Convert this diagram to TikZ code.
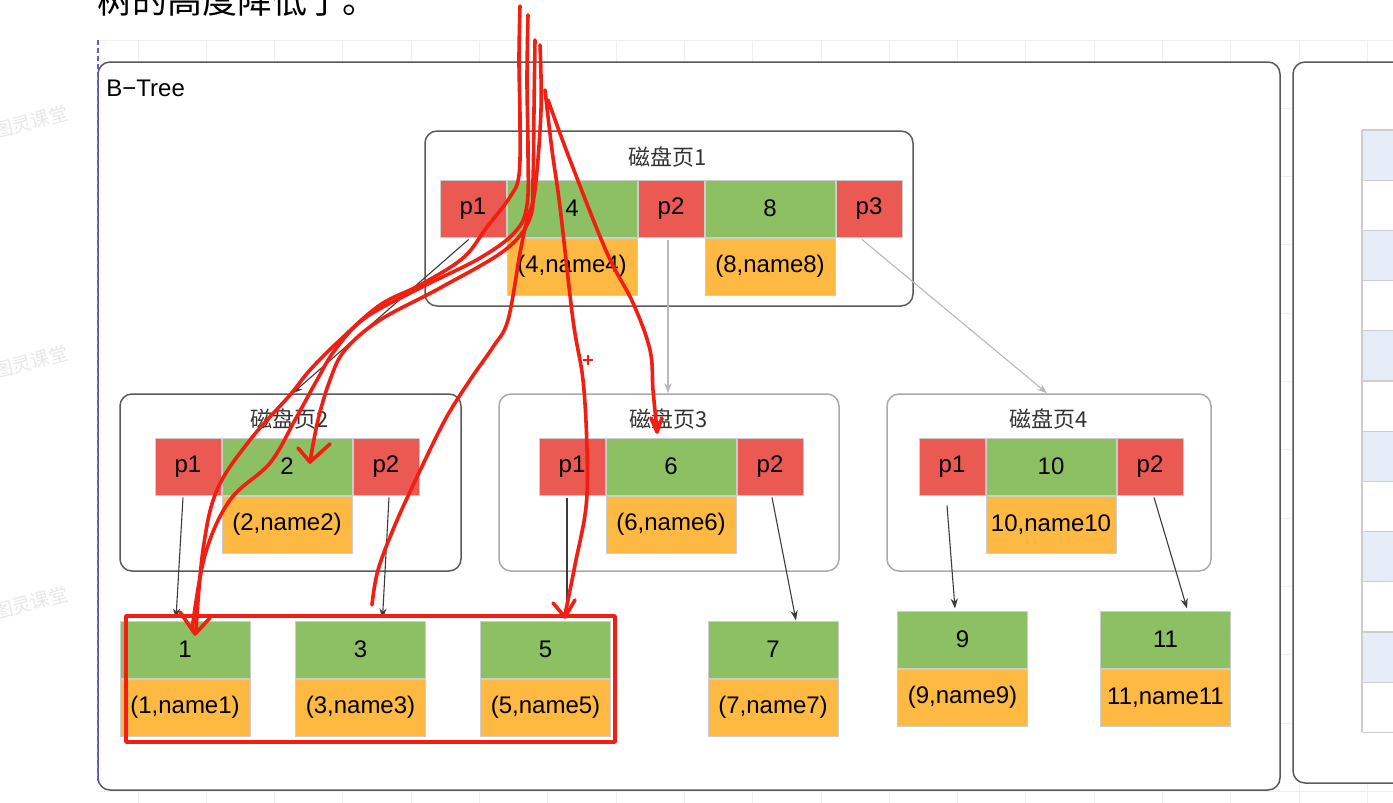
\documentclass[tikz,border=0pt]{standalone}
\usepackage{fontspec}
\setmainfont{Liberation Sans}
\newfontfamily\cjk{Noto Sans CJK SC}
\usetikzlibrary{arrows.meta,positioning}
\definecolor{ptrred}{RGB}{234,90,82}
\definecolor{keygreen}{RGB}{140,192,99}
\definecolor{dataorange}{RGB}{253,185,66}
\definecolor{cellgray}{RGB}{205,205,205}
\definecolor{boxdark}{RGB}{90,90,90}
\definecolor{boxlight}{RGB}{170,170,170}
\definecolor{linkdark}{RGB}{60,60,60}
\definecolor{linklight}{RGB}{185,185,185}
\definecolor{redmark}{RGB}{242,30,18}
\definecolor{gridc}{RGB}{240,240,240}
\definecolor{dashblue}{RGB}{80,100,215}
\definecolor{tableblue}{RGB}{230,236,248}
\begin{document}
\begin{tikzpicture}[x=0.5pt,y=-0.5pt,
  cell/.style={draw=cellgray,line width=0.5pt,inner sep=0pt,minimum height=28.5pt,font=\fontsize{12}{14}\selectfont},
  ptr/.style={cell,fill=ptrred,minimum width=33pt},
  keyc/.style={cell,fill=keygreen,minimum width=65pt},
  datac/.style={cell,fill=dataorange,minimum width=65pt},
  page/.style={draw=#1,line width=0.75pt,rounded corners=6pt,fill=white,inner sep=0pt},
  title/.style={font=\cjk\fontsize{11}{13}\selectfont,text=black!80},
  link/.style={-{Stealth[length=5pt,width=3.6pt]},line width=0.55pt,draw=#1},
  pen/.style={draw=redmark,line width=1.8pt,line cap=round,line join=round},
  wmark/.style={text=black!9,font=\cjk\fontsize{9.5}{11}\selectfont,rotate=15}]
\useasboundingbox (0,0) rectangle (1393,803);
\fill[white] (0,0) rectangle (1393,803);
% 背景の方眼
\foreach \i in {0,...,18} \draw[gridc,line width=0.5pt] ({138+68.3*\i},40) -- ({138+68.3*\i},803);
\foreach \j in {0,...,11} \draw[gridc,line width=0.5pt] (98,{40+68.3*\j}) -- (1393,{40+68.3*\j});
% 透かし
\node[wmark] (wm1) at (31,122) {图灵课堂};
\node[wmark] (wm2) at (31,362) {图灵课堂};
\node[wmark] (wm3) at (31,603) {图灵课堂};
% 上の切れた文
\node[anchor=base west,font=\cjk\fontsize{17.5}{20}\selectfont,inner sep=0pt] (note) at (97,13) {树的高度降低了。};
% 枠
\draw[boxdark,line width=0.75pt,rounded corners=6pt,fill=white] (98,62) rectangle (1280,790);
\draw[boxdark,line width=0.75pt,rounded corners=6pt,fill=white] (1293,62) rectangle (1440,783);
\draw[dashblue,line width=0.6pt,dash pattern=on 2.5pt off 1.5pt] (98,40) -- (98,782);
\node[anchor=west,font=\fontsize{12}{14}\selectfont,inner sep=0pt] (btree) at (106,88) {B−Tree};
% 右の表
\foreach \i in {0,2,...,10} \fill[tableblue] (1362,{130+50.2*\i}) rectangle (1400,{130+50.2*(\i+1)});
\foreach \i in {0,...,12} \draw[cellgray,line width=0.6pt] (1362,{130+50.2*\i}) -- (1400,{130+50.2*\i});
\draw[cellgray,line width=0.6pt] (1362,130) -- (1362,732);
% 磁盘页1
\node[page=boxdark,minimum width=244pt,minimum height=87.5pt] (pg1) at (669,218.5) {};
\node[title] (t1) at (668,157) {磁盘页1};
\node[ptr] (a2) at (671,208.5) {p2};
\node[keyc,left=0pt of a2] (k4) {4};
\node[ptr,left=0pt of k4] (a1) {p1};
\node[keyc,right=0pt of a2] (k8) {8};
\node[ptr,right=0pt of k8] (a3) {p3};
\node[datac,below=0pt of k4] (d4) {(4,name4)};
\node[datac,below=0pt of k8] (d8) {(8,name8)};
% 磁盘页2
\node[page=boxdark,minimum width=170.5pt,minimum height=88.5pt] (pg2) at (290.5,482.5) {};
\node[title] (t2) at (290,419) {磁盘页2};
\node[keyc] (k2) at (287,466.5) {2};
\node[ptr,left=0pt of k2] (b1) {p1};
\node[ptr,right=0pt of k2] (b2) {p2};
\node[datac,below=0pt of k2] (d2) {(2,name2)};
% 磁盘页3
\node[page=boxlight,minimum width=170pt,minimum height=88.5pt] (pg3) at (669,482.5) {};
\node[title] (t3) at (669,419) {磁盘页3};
\node[keyc] (k6) at (671,466.5) {6};
\node[ptr,left=0pt of k6] (c1) {p1};
\node[ptr,right=0pt of k6] (c2) {p2};
\node[datac,below=0pt of k6] (d6) {(6,name6)};
% 磁盘页4
\node[page=boxlight,minimum width=162pt,minimum height=88.5pt] (pg4) at (1049,482.5) {};
\node[title] (t4) at (1049,419) {磁盘页4};
\node[keyc] (k10) at (1051,466.5) {10};
\node[ptr,left=0pt of k10] (e1) {p1};
\node[ptr,right=0pt of k10] (e2) {p2};
\node[datac,below=0pt of k10] (d10) {10,name10};
% 叶
\node[keyc] (l1) at (185,649.5) {1};
\node[datac,below=0pt of l1] (m1) {(1,name1)};
\node[keyc] (l3) at (360.5,649.5) {3};
\node[datac,below=0pt of l3] (m3) {(3,name3)};
\node[keyc] (l5) at (545.5,649.5) {5};
\node[datac,below=0pt of l5] (m5) {(5,name5)};
\node[keyc] (l7) at (773,649.5) {7};
\node[datac,below=0pt of l7] (m7) {(7,name7)};
\node[keyc] (l9) at (962.5,639.5) {9};
\node[datac,below=0pt of l9] (m9) {(9,name9)};
\node[keyc] (l11) at (1165.5,639.5) {11};
\node[datac,below=0pt of l11] (m11) {11,name11};
% 矢印
\draw[link=linkdark] ([xshift=-2.2pt,yshift=-1pt]a1.south) -- ([xshift=1pt]pg2.north);
\draw[link=linklight] ([xshift=-1.5pt,yshift=-1pt]a2.south) -- ([xshift=-0.5pt]pg3.north);
\draw[link=linklight] ([xshift=-3.5pt,yshift=-1pt]a3.south) -- ([xshift=-1pt]pg4.north);
\draw[link=linkdark] ([xshift=-2.5pt,yshift=-1pt]b1.south) -- ([xshift=-4.5pt,yshift=1pt]l1.north);
\draw[link=linkdark] ([xshift=1.5pt,yshift=-1pt]b2.south) -- ([xshift=11pt,yshift=1pt]l3.north);
\draw[link=linkdark] ([xshift=-2.5pt,yshift=-1pt]c1.south) -- ([xshift=10.75pt,yshift=1pt]l5.north);
\draw[link=linkdark] ([xshift=1pt,yshift=-1pt]c2.south) -- ([xshift=11.5pt]l7.north);
\draw[link=linkdark] ([xshift=-2.5pt,yshift=-5pt]e1.south) -- ([xshift=-3.75pt,yshift=1pt]l9.north);
\draw[link=linkdark] ([xshift=2pt,yshift=-1pt]e2.south) -- ([xshift=10.75pt,yshift=1pt]l11.north);
% 赤い手書き
\draw[pen] plot[smooth,tension=0.6] coordinates {(520,6) (519,60) (520,120) (519,175) (510,197) (487,227) (463,258) (420,285) (380,305) (340,340) (310,370) (290,395) (250,440) (217,490) (203,550) (196,630)};
\draw[pen] plot[smooth,tension=0.6] coordinates {(528,15) (527,80) (528,150) (527,205) (515,232) (480,258) (420,288) (365,318) (335,350) (317,380) (295,420) (270,463) (230,500) (205,555) (192,630)};
\draw[pen] (180,612) -- (195,634) -- (210,618);
\draw[pen] plot[smooth,tension=0.6] coordinates {(535,40) (534,110) (533,180) (530,218) (505,250) (440,288) (380,320) (345,350) (330,380) (318,420) (310,462)};
\draw[pen] (298,448) -- (310,462) -- (330,444);
\draw[pen] plot[smooth,tension=0.6] coordinates {(540,45) (541,110) (535,190) (527,220) (520,253) (508,320) (493,347) (470,380) (445,420) (417,477) (395,525) (378,570) (372,605)};
\draw[pen] plot[smooth,tension=0.6] coordinates {(545,90) (552,150) (560,207) (573,320) (583,380) (587,450) (586,507) (575,565) (565,615)};
\draw[pen] (553,603) -- (565,617) -- (575,600);
\draw[pen] plot[smooth,tension=0.6] coordinates {(548,100) (570,160) (607,253) (633,303) (650,350) (653,390) (657,430)};
\draw[pen] (651,418) -- (657,432) -- (662,418);
\draw[redmark,line width=0.6pt] (583,360) -- (593,360) (588,355) -- (588,365);
\draw[pen] (126,616) rectangle (615,742);
\end{tikzpicture}
\end{document}
